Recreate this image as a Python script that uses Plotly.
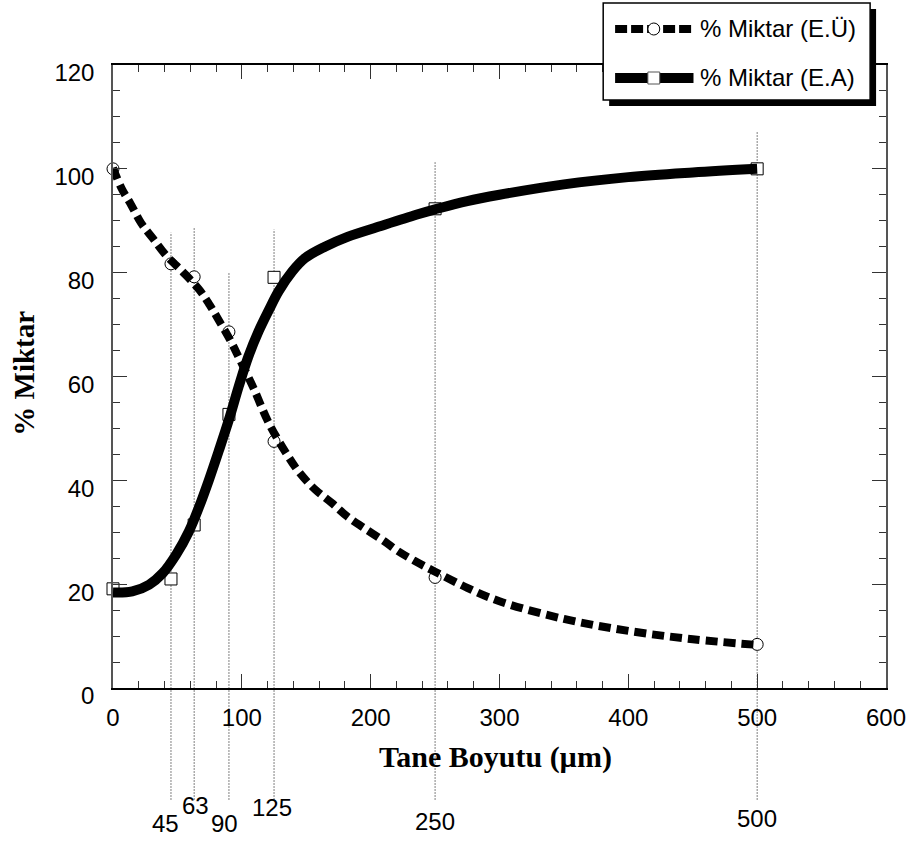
import plotly.graph_objects as go

# ---------------- data ----------------
sizes = [0, 45, 63, 90, 125, 250, 500]                 # Tane boyutu (µm)
eu_points = [100.0, 81.7, 79.2, 68.6, 47.5, 21.3, 8.4]  # % Miktar (E.Ü)
ea_points = [19.1, 21.0, 31.4, 52.7, 79.1, 92.3, 100.0] # % Miktar (E.A)

# smooth fitted curves
eu_curve_x = [0, 6.5, 14, 22, 31, 41, 54, 67, 75, 82, 91, 98, 109, 121, 136, 145,
              157, 170, 182, 195, 211, 221, 234, 250, 275, 300, 350, 400, 450, 500]
eu_curve_y = [100.2, 96.3, 93.1, 89.5, 86.6, 83.4, 80.2, 76.7, 73.8, 70.9, 67.0, 63.5,
              57.8, 51.0, 44.6, 41.4, 38.2, 35.6, 33.0, 30.8, 28.2, 26.4, 24.5, 22.4,
              19.3, 16.7, 13.3, 11.0, 9.4, 8.3]
ea_curve_x = [0, 15, 28, 38.5, 49, 59, 67, 74.5, 82, 90, 97.6, 105, 113, 121, 128.5,
              139, 149, 164.5, 182, 208, 236, 250, 275, 300, 350, 400, 450, 500]
ea_curve_y = [18.4, 18.6, 19.9, 22.1, 25.7, 30.2, 35.0, 40.1, 45.6, 51.7, 58.1, 63.8,
              68.7, 72.8, 76.4, 80.2, 82.8, 85.0, 86.9, 89.0, 91.2, 92.2, 93.8, 95.0,
              97.0, 98.4, 99.3, 100.0]

# guide lines at sieve sizes: label and top of line (in % units)
guide_sizes = [45, 63, 90, 125, 250, 500]
guide_labels = ["45", "63", "90", "125", "250", "500"]
guide_tops = [87.7, 88.8, 80.1, 88.3, 101.3, 107.2]

series_names = ["% Miktar (E.Ü)", "% Miktar (E.A)"]
x_title = "Tane Boyutu (µm)"
y_title = "% Miktar"

# ---------------- layout geometry ----------------
W, H = 918, 845
ML, MR, MT, MB = 113, 26, 65, 157
PW, PH = W - ML - MR, H - MT - MB


def px2x(px):
    return (px - ML) / PW


def px2y(py):
    return (H - MB - py) / PH


SANS = "Liberation Sans, Arial, sans-serif"
SERIF = "Liberation Serif, Times New Roman, serif"

fig = go.Figure()

# markers (under the curves)
fig.add_trace(go.Scatter(x=sizes, y=eu_points, mode="markers", showlegend=False,
                         cliponaxis=False,
                         marker=dict(symbol="circle", size=12, color="white",
                                     line=dict(color="black", width=1))))
fig.add_trace(go.Scatter(x=sizes, y=ea_points, mode="markers", showlegend=False,
                         cliponaxis=False,
                         marker=dict(symbol="square", size=12, color="white",
                                     line=dict(color="black", width=1))))
# curves
fig.add_trace(go.Scatter(x=eu_curve_x, y=eu_curve_y, mode="lines", name=series_names[0],
                         showlegend=False,
                         line=dict(color="black", width=8, dash="12px,6px",
                                   shape="spline", smoothing=1.0)))
fig.add_trace(go.Scatter(x=ea_curve_x, y=ea_curve_y, mode="lines", name=series_names[1],
                         showlegend=False,
                         line=dict(color="black", width=10, shape="spline", smoothing=1.0)))

shapes = []
annotations = []
bottom_px = 800
label_py = [823, 805, 823, 808, 821, 818]
label_dx = [-5, 1, -4, -2, 0, 0]
for gx, gl, gt, lpy, dx in zip(guide_sizes, guide_labels, guide_tops, label_py, label_dx):
    shapes.append(dict(type="line", xref="x", yref="paper", x0=gx, x1=gx,
                       y0=px2y(bottom_px), y1=gt / 120.0, layer="below",
                       line=dict(color="#808080", width=1, dash="2px,1px")))
    annotations.append(dict(xref="x", yref="paper", x=gx, y=px2y(lpy), xshift=dx,
                            text=gl, showarrow=False, xanchor="center", yanchor="middle",
                            font=dict(family=SANS, size=24, color="black")))

# axis titles
annotations.append(dict(xref="paper", yref="paper", x=px2x(498), y=px2y(757),
                        text="<b>%s</b>" % x_title, showarrow=False,
                        xanchor="center", yanchor="middle",
                        font=dict(family=SERIF, size=30, color="black")))
annotations.append(dict(xref="paper", yref="paper", x=px2x(23), y=px2y(373),
                        text="<b>%s</b>" % y_title, showarrow=False, textangle=-90,
                        xanchor="center", yanchor="middle",
                        font=dict(family=SERIF, size=29, color="black")))

# custom legend box with shadow
bx0, bx1, by0, by1 = 607, 876, 3, 100
shapes.append(dict(type="rect", xref="paper", yref="paper",
                   x0=px2x(bx0 + 6), x1=px2x(bx1 + 6), y0=px2y(by1 + 6), y1=px2y(by0 + 6),
                   fillcolor="black", line=dict(color="black", width=0), layer="above"))
shapes.append(dict(type="rect", xref="paper", yref="paper",
                   x0=px2x(bx0), x1=px2x(bx1), y0=px2y(by1), y1=px2y(by0),
                   fillcolor="white", line=dict(color="black", width=1.5), layer="above"))
rows = [29, 78]
shapes.append(dict(type="line", xref="paper", yref="paper",
                   x0=px2x(619), x1=px2x(698), y0=px2y(rows[0]), y1=px2y(rows[0]),
                   line=dict(color="black", width=8, dash="12px,4px"), layer="above"))
shapes.append(dict(type="circle", xref="paper", yref="paper",
                   x0=px2x(652), x1=px2x(664), y0=px2y(rows[0] + 6), y1=px2y(rows[0] - 6),
                   fillcolor="white", line=dict(color="black", width=1), layer="above"))
shapes.append(dict(type="line", xref="paper", yref="paper",
                   x0=px2x(619), x1=px2x(698), y0=px2y(rows[1]), y1=px2y(rows[1]),
                   line=dict(color="black", width=10), layer="above"))
shapes.append(dict(type="rect", xref="paper", yref="paper",
                   x0=px2x(652), x1=px2x(664), y0=px2y(rows[1] + 6), y1=px2y(rows[1] - 6),
                   fillcolor="white", line=dict(color="#555", width=1), layer="above"))
for r, nm in zip(rows, series_names):
    annotations.append(dict(xref="paper", yref="paper", x=px2x(703), y=px2y(r),
                            text=nm, showarrow=False, xanchor="left", yanchor="middle",
                            font=dict(family=SANS, size=24, color="black")))

fig.update_layout(
    width=W, height=H, autosize=False,
    margin=dict(l=ML, r=MR, t=MT, b=MB, pad=0),
    paper_bgcolor="white", plot_bgcolor="white",
    showlegend=False,
    shapes=shapes, annotations=annotations,
    xaxis=dict(range=[0, 600], dtick=100, tick0=0, showgrid=False, zeroline=False,
               showline=True, linecolor="black", linewidth=1.5, mirror="ticks",
               ticks="inside", ticklen=14, tickcolor="#333", tickwidth=1,
               ticklabelstandoff=7,
               minor=dict(dtick=20, ticks="inside", ticklen=7, tickcolor="#333"),
               tickfont=dict(family=SANS, size=24, color="black")),
    yaxis=dict(range=[0, 120], dtick=20, tick0=0, showgrid=False, zeroline=False,
               showline=True, linecolor="#555", linewidth=1.5, mirror="ticks",
               ticks="inside", ticklen=14, tickcolor="#333", tickwidth=1,
               ticklabelstandoff=12, ticklabelshift=8,
               minor=dict(dtick=5, ticks="inside", ticklen=7, tickcolor="#333"),
               tickfont=dict(family=SANS, size=24, color="black")),
)

fig.write_html("out.html",
               config={"displayModeBar": False},
               post_script="document.body.style.margin='0px';"
                           "document.body.style.overflow='hidden';")
